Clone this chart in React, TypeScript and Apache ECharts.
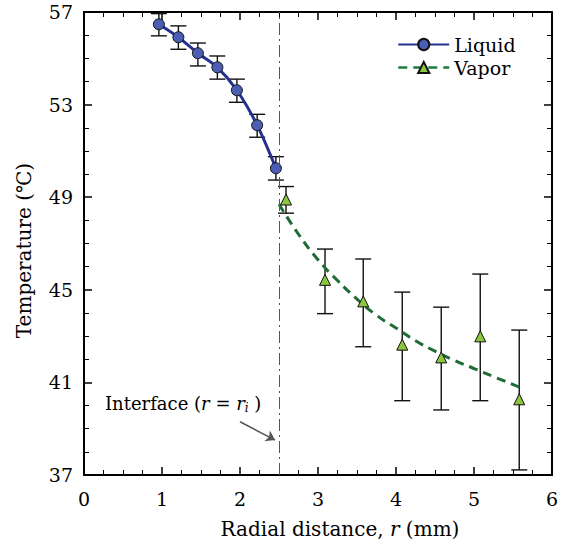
import React, { useEffect, useRef } from 'react';
import * as echarts from 'echarts';

const FONT = '"DejaVu Serif", serif';

// Liquid measurements
const xLiquid = [0.96, 1.21, 1.46, 1.71, 1.96, 2.22, 2.46];
const tLiquid = [56.47, 55.91, 55.22, 54.61, 53.62, 52.11, 50.25];
const liquidLow = [55.97, 55.39, 54.67, 54.1, 53.1, 51.59, 49.74];
const liquidHigh = [56.93, 56.4, 55.66, 55.1, 54.1, 52.58, 50.75];

// Vapor measurements
const xVapor = [2.59, 3.09, 3.58, 4.08, 4.58, 5.08, 5.58];
const tVapor = [48.9, 45.43, 44.5, 42.63, 42.08, 42.99, 40.27];
const vaporLow = [48.31, 43.97, 42.54, 40.21, 39.81, 40.21, 37.22];
const vaporHigh = [49.46, 46.76, 46.33, 44.9, 44.25, 45.68, 43.26];

// Vapor fitted curve
const xVaporFit = [2.5, 2.75, 3.0, 3.25, 3.5, 3.75, 4.0, 4.25, 4.5, 4.75, 5.0, 5.25, 5.58];
const tVaporFit = [48.7, 47.4, 46.3, 45.4, 44.6, 43.9, 43.35, 42.8, 42.35, 41.95, 41.6, 41.25, 40.8];

const interfaceR = 2.5;
const arrowFrom = [2.0, 39.3];
const arrowTo = [2.45, 38.51];

export default function App() {
  const ref = useRef<HTMLDivElement>(null);
  useEffect(() => {
    const chart = echarts.init(ref.current!, null, { renderer: 'svg' });
    const errRender = (params: any, api: any) => {
      const x = api.value(0);
      const lo = api.value(1);
      const hi = api.value(2);
      const p1 = api.coord([x, hi]);
      const p2 = api.coord([x, lo]);
      const w = 8;
      const style = { stroke: '#111', lineWidth: 1.4, fill: 'none' };
      return {
        type: 'group',
        children: [
          { type: 'line', shape: { x1: p1[0], y1: p1[1], x2: p2[0], y2: p2[1] }, style },
          { type: 'line', shape: { x1: p1[0] - w, y1: p1[1], x2: p1[0] + w, y2: p1[1] }, style },
          { type: 'line', shape: { x1: p2[0] - w, y1: p2[1], x2: p2[0] + w, y2: p2[1] }, style },
        ],
      };
    };
    const axisCommon = {
      type: 'value',
      splitLine: { show: false },
      axisLine: { show: true, onZero: false, lineStyle: { color: '#000', width: 2 } },
      axisTick: { show: true, inside: true, length: 8, lineStyle: { color: '#000', width: 1.5 } },
      minorTick: { show: true, splitNumber: 4, length: 5, lineStyle: { color: '#000', width: 1 } },
    };
    const labelStyle = { color: '#000', fontSize: 19, fontFamily: FONT };
    const italic = { fontStyle: 'italic', fontSize: 20, fontFamily: FONT, color: '#000' };
    chart.setOption({
      animation: false,
      grid: { left: 84, right: 18, top: 12, bottom: 78, containLabel: false },
      xAxis: [
        {
          ...axisCommon,
          min: 0,
          max: 6,
          interval: 1,
          position: 'bottom',
          axisLabel: { ...labelStyle, margin: 14 },
          name: 'Radial distance, {i|r} (mm)',
          nameLocation: 'middle',
          nameGap: 44,
          nameTextStyle: {
            color: '#000',
            fontSize: 20,
            fontFamily: FONT,
            padding: [0, 0, 0, 44],
            rich: { i: italic },
          },
        },
        {
          ...axisCommon,
          min: 0,
          max: 6,
          interval: 1,
          position: 'top',
          axisLabel: { show: false },
        },
      ],
      yAxis: [
        {
          ...axisCommon,
          min: 37,
          max: 57,
          interval: 4,
          position: 'left',
          axisLabel: { ...labelStyle, margin: 11 },
          name: 'Temperature (℃)',
          nameLocation: 'middle',
          nameGap: 50,
          nameTextStyle: {
            color: '#000',
            fontSize: 20,
            fontFamily: FONT,
            padding: [0, 14, 0, 0],
          },
        },
        {
          ...axisCommon,
          min: 37,
          max: 57,
          interval: 4,
          position: 'right',
          axisLabel: { show: false },
        },
      ],
      legend: {
        orient: 'vertical',
        left: 392,
        top: 30,
        itemWidth: 51,
        itemHeight: 14,
        itemGap: 4,
        textStyle: { color: '#000', fontSize: 19, fontFamily: FONT },
        data: [
          { name: 'Liquid' },
          {
            name: 'Vapor',
            lineStyle: { type: [9, 6], width: 2.5, color: '#1e7a3c', opacity: 1 },
          },
        ],
      },
      series: [
        {
          name: 'Liquid error',
          type: 'custom',
          renderItem: errRender,
          data: xLiquid.map((x, i) => [x, liquidLow[i], liquidHigh[i]]),
          encode: { x: 0, y: [1, 2] },
          z: 1,
          silent: true,
        },
        {
          name: 'Vapor error',
          type: 'custom',
          renderItem: errRender,
          data: xVapor.map((x, i) => [x, vaporLow[i], vaporHigh[i]]),
          encode: { x: 0, y: [1, 2] },
          z: 1,
          silent: true,
        },
        {
          name: 'Vapor fit',
          type: 'line',
          data: xVaporFit.map((x, i) => [x, tVaporFit[i]]),
          smooth: true,
          symbol: 'none',
          lineStyle: { color: '#1e6b35', width: 3, type: [9, 6] },
          z: 2,
          silent: true,
          markLine: {
            silent: true,
            symbol: 'none',
            label: { show: false },
            lineStyle: { color: '#555', width: 1, type: [12, 4, 2, 4] },
            data: [{ xAxis: interfaceR }],
          },
        },
        {
          name: 'Liquid',
          type: 'line',
          data: xLiquid.map((x, i) => [x, tLiquid[i]]),
          smooth: 0.3,
          symbol: 'circle',
          symbolSize: 11,
          itemStyle: { color: '#4a5fb4', borderColor: '#111', borderWidth: 1 },
          lineStyle: { color: '#25308f', width: 3 },
          z: 3,
          markLine: {
            silent: true,
            symbol: ['none', 'arrow'],
            symbolSize: 9,
            label: { show: false },
            lineStyle: { color: '#555', width: 1.5, type: 'solid' },
            data: [[{ coord: arrowFrom }, { coord: arrowTo }]],
          },
        },
        {
          name: 'Vapor',
          type: 'line',
          data: xVapor.map((x, i) => [x, tVapor[i]]),
          symbol: 'triangle',
          symbolSize: 11,
          itemStyle: { color: '#8cc63f', borderColor: '#111', borderWidth: 1 },
          lineStyle: { width: 0, color: '#1e7a3c', type: 'dashed' },
          z: 3,
        },
      ],
      graphic: [
        {
          type: 'text',
          left: 105,
          top: 394,
          style: {
            text: 'Interface ({i|r} = {i|r}{s|i} )',
            fill: '#000',
            fontSize: 18,
            fontFamily: FONT,
            rich: {
              i: { fontStyle: 'italic', fontSize: 18, fontFamily: FONT, fill: '#000' },
              s: { fontStyle: 'italic', fontSize: 12, fontFamily: FONT, fill: '#000', verticalAlign: 'bottom', padding: [9, 0, 0, 0] },
            },
          },
        },
      ],
    });
    return () => chart.dispose();
  }, []);
  return <div ref={ref} style={{ width: 570, height: 553, position: 'absolute', left: 0, top: 0 }} />;
}
